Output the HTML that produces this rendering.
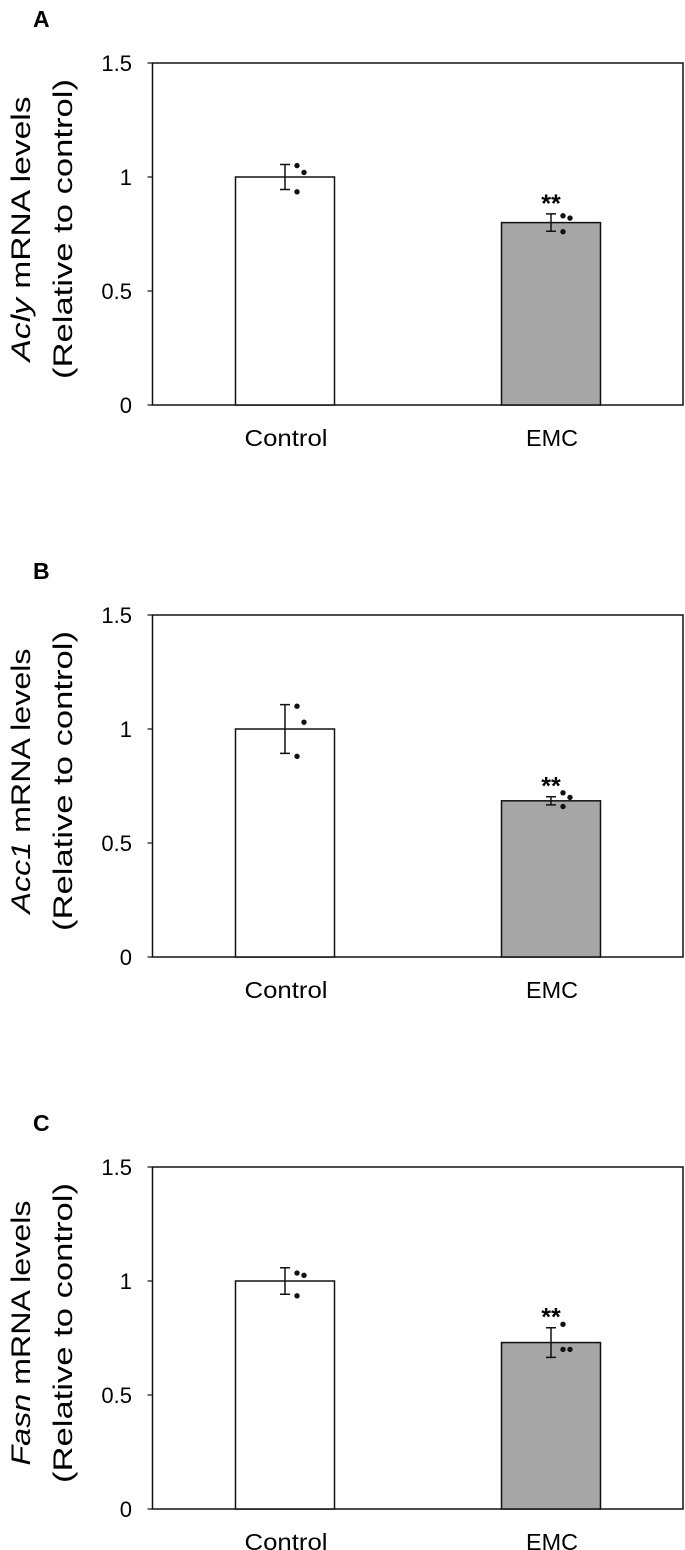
<!DOCTYPE html>
<html><head><meta charset="utf-8"><style>
html,body{margin:0;padding:0;background:#fff;}
svg{display:block;font-family:"Liberation Sans",Arial,sans-serif;}
</style></head><body>
<svg id="fig" width="685" height="1550" viewBox="0 0 685 1550"></svg>
<script>
const panelLetters = ["A","B","C"];
const genes = ["Acly","Acc1","Fasn"];
const categories = ["Control","EMC"];
const yTicks = [0,0.5,1,1.5];
const yTickLabels = ["0","0.5","1","1.5"];
const controlMeans = [1.0,1.0,1.0];
const emcMeans = [0.80,0.685,0.73];
const controlErr = [0.055,0.107,0.058];
const emcErr = [0.038,0.018,0.065];
const controlDots = [[1.05,1.02,0.935],[1.10,1.03,0.88],[1.035,1.025,0.935]];
const emcDots = [[0.83,0.82,0.76],[0.72,0.70,0.66],[0.81,0.70,0.70]];
const sigLabels = ["**","**","**"];

const NS="http://www.w3.org/2000/svg";
const svg=document.getElementById('fig');
function mk(tag,attrs,parent){const e=document.createElementNS(NS,tag);for(const k in attrs)e.setAttribute(k,attrs[k]);(parent||svg).appendChild(e);return e;}

const left=152.5,right=683,barW=99;
const catCenters=[285,551];
const labelWidths=[83,52];
const dotOffsets=[12,19,12];
for(let p=0;p<3;p++){
  const base=405+p*552;
  const y=v=>base-v*228;
  const g=mk('g',{});
  
  
  const L=mk('text',{x:33,y:base-378,'font-size':23,'font-weight':'bold'},g);
  L.textContent=panelLetters[p];
  
  
  const cy=base-176;
  const t1=mk('text',{x:0,y:0,'font-size':27,'text-anchor':'middle',textLength:265,lengthAdjust:'spacingAndGlyphs',transform:`translate(30,${cy}) rotate(-90)`},g);
  t1.innerHTML=`<tspan font-style="italic">${genes[p]}</tspan> mRNA levels`;
  
  
  const t2=mk('text',{x:0,y:0,'font-size':27,'text-anchor':'middle',textLength:300,lengthAdjust:'spacingAndGlyphs',transform:`translate(72,${cy}) rotate(-90)`},g);
  t2.textContent='(Relative to control)';
  
  
  const fr=mk('rect',{x:left,y:y(1.5),width:right-left,height:y(0)-y(1.5),fill:'none',stroke:'#111','stroke-width':1.5},g);
  
  
  yTicks.forEach((v,i)=>{
    const tk=mk('line',{x1:left-5,x2:left,y1:y(v),y2:y(v),stroke:'#111','stroke-width':1.2},g);
    
    
    const tl=mk('text',{x:132,y:y(v)+8,'font-size':22,'text-anchor':'end'},g);
    tl.textContent=yTickLabels[i];
    
    
  });
  const means=[controlMeans[p],emcMeans[p]],errs=[controlErr[p],emcErr[p]],dots=[controlDots[p],emcDots[p]];
  categories.forEach((c,i)=>{
    const cx=catCenters[i];
    const b=mk('rect',{x:cx-barW/2,y:y(means[i]),width:barW,height:y(0)-y(means[i]),fill:i?'#a6a6a6':'#fff',stroke:'#111','stroke-width':1.5},g);
    
    
    const e=mk('path',{d:`M${cx-5},${y(means[i]+errs[i])}H${cx+5}M${cx},${y(means[i]+errs[i])}V${y(means[i]-errs[i])}M${cx-5},${y(means[i]-errs[i])}H${cx+5}`,stroke:'#111','stroke-width':1.5,fill:'none'},g);
    
    
    dots[i].forEach((d,k)=>{
      const dt=mk('circle',{cx:cx+dotOffsets[k],cy:y(d),r:2.7,fill:'#111'},g);
      
      
    });
    const xl=mk('text',{x:cx+1,y:base+41,'font-size':23,'text-anchor':'middle',textLength:labelWidths[i],lengthAdjust:'spacingAndGlyphs'},g);
    xl.textContent=c;
    
    
  });
  const s=mk('text',{x:catCenters[1],y:y(emcMeans[p]+emcErr[p])-2,'font-size':25,'font-weight':'bold','text-anchor':'middle'},g);
  s.textContent=sigLabels[p];
  
  
}
</script>
</body></html>
